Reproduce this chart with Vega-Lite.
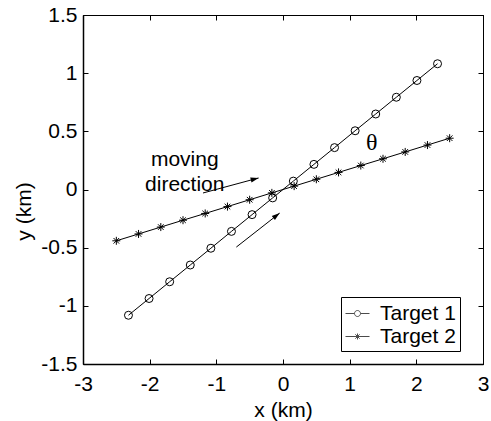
{
  "$schema": "https://vega.github.io/schema/vega-lite/v6.json",
  "width": 400,
  "height": 349,
  "autosize": "none",
  "padding": {"left": 83, "top": 15, "right": 8, "bottom": 57},
  "config": {
    "font": "Liberation Sans",
    "view": {"stroke": "black", "strokeWidth": 1},
    "locale": {"number": {"decimal": ".", "thousands": ",", "grouping": [3], "currency": ["$", ""], "minus": "-"}},
    "axis": {
      "grid": false, "domainColor": "black", "tickColor": "black", "labelColor": "black", "titleColor": "black",
      "labelFont": "Liberation Sans", "titleFont": "Liberation Sans", "labelFontSize": 21, "titleFontSize": 21,
      "titleFontWeight": "normal", "tickSize": -5, "domainWidth": 1.5, "tickWidth": 1, "labelFlush": false, "labelOverlap": false,
      "format": "~g"
    },
    "legend": {
      "orient": "none", "legendX": 258, "legendY": 282, "padding": 4, "strokeColor": "black", "fillColor": "white",
      "labelFontSize": 21, "labelFont": "Liberation Sans", "labelColor": "black", "symbolSize": 576,
      "symbolStrokeColor": "black", "symbolFillColor": "transparent", "symbolStrokeWidth": 1, "labelOffset": 10,
      "rowPadding": 0, "cornerRadius": 0
    }
  },
  "datasets": {
    "tracks": [
      {"Target": "Target 1", "x": -2.318, "y": -1.081},
      {"Target": "Target 1", "x": -2.009, "y": -0.937},
      {"Target": "Target 1", "x": -1.700, "y": -0.793},
      {"Target": "Target 1", "x": -1.391, "y": -0.649},
      {"Target": "Target 1", "x": -1.082, "y": -0.505},
      {"Target": "Target 1", "x": -0.773, "y": -0.360},
      {"Target": "Target 1", "x": -0.464, "y": -0.216},
      {"Target": "Target 1", "x": -0.155, "y": -0.072},
      {"Target": "Target 1", "x": 0.155, "y": 0.072},
      {"Target": "Target 1", "x": 0.464, "y": 0.216},
      {"Target": "Target 1", "x": 0.773, "y": 0.360},
      {"Target": "Target 1", "x": 1.082, "y": 0.505},
      {"Target": "Target 1", "x": 1.391, "y": 0.649},
      {"Target": "Target 1", "x": 1.700, "y": 0.793},
      {"Target": "Target 1", "x": 2.009, "y": 0.937},
      {"Target": "Target 1", "x": 2.318, "y": 1.081},
      {"Target": "Target 2", "x": -2.500, "y": -0.441},
      {"Target": "Target 2", "x": -2.167, "y": -0.382},
      {"Target": "Target 2", "x": -1.833, "y": -0.323},
      {"Target": "Target 2", "x": -1.500, "y": -0.264},
      {"Target": "Target 2", "x": -1.167, "y": -0.206},
      {"Target": "Target 2", "x": -0.833, "y": -0.147},
      {"Target": "Target 2", "x": -0.500, "y": -0.088},
      {"Target": "Target 2", "x": -0.167, "y": -0.029},
      {"Target": "Target 2", "x": 0.167, "y": 0.029},
      {"Target": "Target 2", "x": 0.500, "y": 0.088},
      {"Target": "Target 2", "x": 0.833, "y": 0.147},
      {"Target": "Target 2", "x": 1.167, "y": 0.206},
      {"Target": "Target 2", "x": 1.500, "y": 0.264},
      {"Target": "Target 2", "x": 1.833, "y": 0.323},
      {"Target": "Target 2", "x": 2.167, "y": 0.382},
      {"Target": "Target 2", "x": 2.500, "y": 0.441}
    ],
    "arrows": [
      {"id": "a1", "x": -1.20, "y": -0.030, "x2": -0.366, "y2": 0.099},
      {"id": "a2", "x": -0.70, "y": -0.495, "x2": -0.05, "y2": -0.203}
    ],
    "notes": [
      {"id": "t1", "label": "moving", "x": -1.474, "y": 0.202},
      {"id": "t2", "label": "direction", "x": -1.474, "y": -0.010},
      {"id": "theta", "label": "θ", "x": 1.33, "y": 0.40}
    ]
  },
  "layer": [
    {
      "data": {"name": "tracks"},
      "mark": {"type": "line", "color": "black", "strokeWidth": 1},
      "encoding": {
        "x": {"field": "x", "type": "quantitative", "scale": {"domain": [-3, 3], "nice": false, "zero": false},
              "axis": {"orient": "bottom", "values": [-3, -2, -1, 0, 1, 2, 3], "title": "x (km)", "labelPadding": 14, "titlePadding": 5}},
        "y": {"field": "y", "type": "quantitative", "scale": {"domain": [-1.5, 1.5], "nice": false, "zero": false},
              "axis": {"orient": "left", "values": [-1.5, -1, -0.5, 0, 0.5, 1, 1.5], "title": "y (km)", "labelPadding": 11, "titlePadding": 6, "titleY": 196}},
        "detail": {"field": "Target"}
      }
    },
    {
      "data": {"name": "tracks"},
      "mark": {"type": "point", "filled": false, "stroke": "black", "strokeWidth": 1, "size": 64, "opacity": 1},
      "encoding": {
        "x": {"field": "x", "type": "quantitative", "scale": {"domain": [-3, 3], "nice": false, "zero": false},
              "axis": {"orient": "top", "values": [-3, -2, -1, 0, 1, 2, 3], "labels": false, "title": null, "domainWidth": 1}},
        "y": {"field": "y", "type": "quantitative", "scale": {"domain": [-1.5, 1.5], "nice": false, "zero": false},
              "axis": {"orient": "right", "values": [-1.5, -1, -0.5, 0, 0.5, 1, 1.5], "labels": false, "title": null, "domainWidth": 1}},
        "shape": {"field": "Target", "type": "nominal", "legend": null,
                  "scale": {"domain": ["Target 1", "Target 2"], "range": ["circle", "M0,-1L0,1M-1,0L1,0M-0.7,-0.7L0.7,0.7M-0.7,0.7L0.7,-0.7"]}}
      }
    },
    {
      "data": {"name": "tracks"},
      "transform": [{"filter": "datum.x > 99"}],
      "mark": {"type": "point", "filled": false, "stroke": "black", "strokeWidth": 1},
      "encoding": {
        "x": {"field": "x", "type": "quantitative", "scale": {"domain": [-3, 3], "nice": false, "zero": false}, "axis": null},
        "y": {"field": "y", "type": "quantitative", "scale": {"domain": [-1.5, 1.5], "nice": false, "zero": false}, "axis": null},
        "shape": {"field": "Target", "type": "nominal",
                  "scale": {"domain": ["Target 1", "Target 2"], "range": [
                    "M-1,0L-0.25,0M0.25,0L1,0M0,-0.25A0.25,0.25 0 1,1 0,0.25A0.25,0.25 0 1,1 0,-0.25",
                    "M-1,0L1,0M0,-0.25L0,0.25M-0.18,-0.18L0.18,0.18M-0.18,0.18L0.18,-0.18"]},
                  "legend": {"title": null}}
      }
    },
    {
      "data": {"name": "arrows"},
      "mark": {"type": "rule", "color": "black", "strokeWidth": 1},
      "encoding": {
        "x": {"field": "x", "type": "quantitative", "scale": {"domain": [-3, 3], "nice": false, "zero": false}, "axis": null},
        "y": {"field": "y", "type": "quantitative", "scale": {"domain": [-1.5, 1.5], "nice": false, "zero": false}, "axis": null},
        "x2": {"field": "x2"},
        "y2": {"field": "y2"}
      }
    },
    {
      "data": {"name": "arrows"},
      "transform": [{"filter": "datum.id == 'a1'"}],
      "mark": {"type": "point", "filled": true, "color": "black", "opacity": 1, "size": 256, "angle": -15,
               "shape": "M0,0L-1,-0.32L-1,0.32Z"},
      "encoding": {
        "x": {"field": "x2", "type": "quantitative", "scale": {"domain": [-3, 3], "nice": false, "zero": false}, "axis": null},
        "y": {"field": "y2", "type": "quantitative", "scale": {"domain": [-1.5, 1.5], "nice": false, "zero": false}, "axis": null}
      }
    },
    {
      "data": {"name": "arrows"},
      "transform": [{"filter": "datum.id == 'a2'"}],
      "mark": {"type": "point", "filled": true, "color": "black", "opacity": 1, "size": 256, "angle": -38,
               "shape": "M0,0L-1,-0.32L-1,0.32Z"},
      "encoding": {
        "x": {"field": "x2", "type": "quantitative", "scale": {"domain": [-3, 3], "nice": false, "zero": false}, "axis": null},
        "y": {"field": "y2", "type": "quantitative", "scale": {"domain": [-1.5, 1.5], "nice": false, "zero": false}, "axis": null}
      }
    },
    {
      "data": {"name": "notes"},
      "transform": [{"filter": "datum.id != 'theta'"}],
      "mark": {"type": "text", "font": "Liberation Sans", "fontSize": 21, "color": "black", "align": "center", "baseline": "alphabetic"},
      "encoding": {
        "x": {"field": "x", "type": "quantitative", "scale": {"domain": [-3, 3], "nice": false, "zero": false}, "axis": null},
        "y": {"field": "y", "type": "quantitative", "scale": {"domain": [-1.5, 1.5], "nice": false, "zero": false}, "axis": null},
        "text": {"field": "label"}
      }
    },
    {
      "data": {"name": "notes"},
      "transform": [{"filter": "datum.id == 'theta'"}],
      "mark": {"type": "text", "font": "Liberation Serif", "fontSize": 24, "color": "black", "align": "center", "baseline": "middle"},
      "encoding": {
        "x": {"field": "x", "type": "quantitative", "scale": {"domain": [-3, 3], "nice": false, "zero": false}, "axis": null},
        "y": {"field": "y", "type": "quantitative", "scale": {"domain": [-1.5, 1.5], "nice": false, "zero": false}, "axis": null},
        "text": {"field": "label"}
      }
    }
  ],
  "resolve": {"axis": {"x": "independent", "y": "independent"}, "scale": {"shape": "independent"}}
}
